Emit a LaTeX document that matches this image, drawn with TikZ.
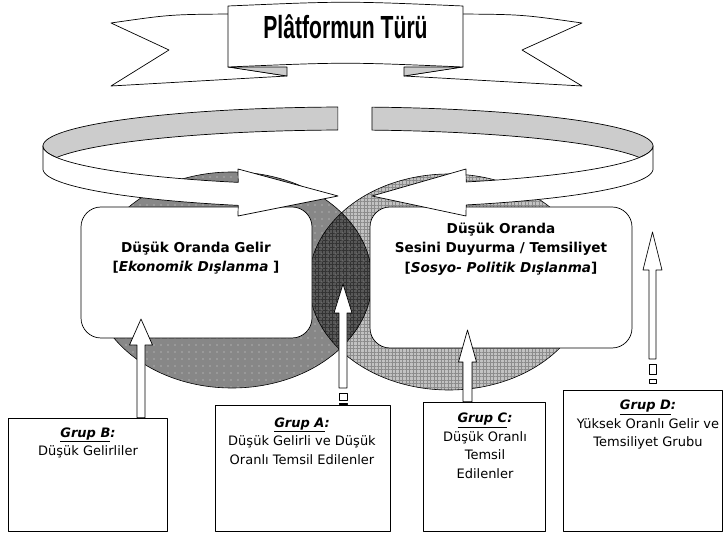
\documentclass[tikz,border=0pt]{standalone}
\usepackage{fontspec}
\usepackage{graphicx}
\setmainfont{DejaVu Sans}
\newfontfamily\bannerfont{Liberation Sans}
\usetikzlibrary{patterns.meta,calc}
\newcommand{\upblk}[6]{%
 \pgfmathsetmacro\blkA{#1+#5}\pgfmathsetmacro\blkB{#1+#6}%
 \pgfmathsetmacro\blkC{#1-#6}\pgfmathsetmacro\blkD{#1-#5}%
 \filldraw[blk] (#1,#2) -- (\blkA,#3) -- (\blkB,#3) -- (\blkB,#4) -- (\blkC,#4) -- (\blkC,#3) -- (\blkD,#3) -- cycle;}
\def\rgcx{348}\def\rgcy{146}\def\rgrx{305}\def\rgry{39}\def\rgh{23}
\begin{document}
\begin{tikzpicture}[x=1pt,y=-1pt,line join=round,
  ol/.style={draw=black,line width=0.7pt},
  rbox/.style={ol,fill=white,rounded corners=20pt,inner sep=0pt},
  gbox/.style={ol,fill=white,inner sep=0pt},
  blk/.style={ol,fill=white},
  ringback/.style={ol,fill=black!20},
  ringfront/.style={ol,fill=white},
  boxtxt/.style={font=\fontsize{13.6}{19.5}\selectfont\bfseries,align=center,inner sep=0pt},
  grptxt/.style={font=\fontsize{13}{18.5}\selectfont,align=center,inner sep=0pt},
]
\useasboundingbox (0,0) rectangle (723,534);
\fill[white] (0,0) rectangle (723,534);

% ---- overlapping circles
\fill[black!47] (232,280) ellipse [x radius=140, y radius=108];
\fill[pattern={Dots[distance=7pt,radius=0.6pt]},pattern color=white!85!black] (232,280) ellipse [x radius=140, y radius=108];
\fill[black!24] (449,282) ellipse [x radius=140, y radius=108];
\fill[pattern={Hatch[distance=3.5pt,line width=0.5pt]},pattern color=black!45] (449,282) ellipse [x radius=140, y radius=108];
\begin{scope}
  \clip (232,280) ellipse [x radius=140, y radius=108];
  \fill[black!66] (449,282) ellipse [x radius=140, y radius=108];
  \fill[pattern={Hatch[distance=3.5pt,line width=0.5pt]},pattern color=black!80] (449,282) ellipse [x radius=140, y radius=108];
  \fill[pattern={Dots[distance=7pt,radius=0.6pt]},pattern color=black!35] (449,282) ellipse [x radius=140, y radius=108];
\end{scope}
\draw[line width=0.6pt] (232,280) ellipse [x radius=140, y radius=108];
\draw[line width=0.6pt] (449,282) ellipse [x radius=140, y radius=108];

% ---- rounded boxes
\node[rbox,minimum width=231pt,minimum height=131pt] (lbox) at (196.5,272.5) {};
\node[rbox,minimum width=262pt,minimum height=141pt] (rbox) at (501,277.5) {};
\node[boxtxt] (ltext) at (196,258) {Düşük Oranda Gelir\\{[}\textit{Ekonomik Dışlanma}~{]}};
\node[boxtxt] (rtext) at (501,249) {Düşük Oranda\\Sesini Duyurma / Temsiliyet\\{[}\textit{Sosyo- Politik Dışlanma}{]}};

% ---- circular ribbon arrows
\filldraw[ringback] plot[domain=268.1:162.8,samples=60] ({\rgcx+\rgrx*cos(\x)},{\rgcy+\rgry*sin(\x)})
  -- plot[domain=197.2:268.1,samples=50] ({\rgcx+\rgrx*cos(\x)},{\rgcy+\rgh+\rgry*sin(\x)}) -- cycle;
\filldraw[ringfront] plot[domain=180:111.1,samples=50] ({\rgcx+\rgrx*cos(\x)},{\rgcy+\rgry*sin(\x)})
  -- (238,169) -- (338,196) -- (238,216)
  -- plot[domain=111.1:180,samples=50] ({\rgcx+\rgrx*cos(\x)},{\rgcy+\rgh+\rgry*sin(\x)}) -- cycle;
\filldraw[ringback] plot[domain=274.5:377.2,samples=60] ({\rgcx+\rgrx*cos(\x)},{\rgcy+\rgry*sin(\x)})
  -- plot[domain=342.8:274.5,samples=50] ({\rgcx+\rgrx*cos(\x)},{\rgcy+\rgh+\rgry*sin(\x)}) -- cycle;
\filldraw[ringfront] plot[domain=0:67.2,samples=50] ({\rgcx+\rgrx*cos(\x)},{\rgcy+\rgry*sin(\x)})
  -- (466,169) -- (372,196) -- (466,216)
  -- plot[domain=67.2:0,samples=50] ({\rgcx+\rgrx*cos(\x)},{\rgcy+\rgh+\rgry*sin(\x)}) -- cycle;

% ---- banner
\filldraw[ol,fill=white] (111,23) .. controls (170,14.5) .. (230,14) -- (230,67) -- (287,76) -- (111,86) -- (169,50) -- cycle;
\filldraw[ol,fill=white] (582,23) .. controls (522,14.5) .. (461,14) -- (461,67) -- (404,76) -- (582,86) -- (522,50) -- cycle;
\filldraw[ol,fill=black!20] (228,67) -- (287,67) -- (287,76) -- cycle;
\filldraw[ol,fill=black!20] (463,67) -- (404,67) -- (404,76) -- cycle;
\filldraw[ol,fill=white] (228,6) .. controls (345.5,1) .. (463,6) -- (463,67) .. controls (345.5,62) .. (228,67) -- cycle;
\node[font=\bannerfont\bfseries\fontsize{32}{32}\selectfont,inner sep=0pt,anchor=base] (title) at (345.5,39) {\scalebox{0.66}[1]{Plâtformun Türü}};

% ---- group boxes
\node[gbox,minimum width=159pt,minimum height=113pt] (gB) at (87.5,474.5) {};
\node[gbox,minimum width=175pt,minimum height=126pt] (gA) at (302.5,468) {};
\node[gbox,minimum width=122pt,minimum height=129pt] (gC) at (484,466.5) {};
\node[gbox,minimum width=159pt,minimum height=141pt] (gD) at (642.5,460.5) {};
\node[grptxt] (tB) at (88,443) {\underline{\textbf{\textit{Grup B}}}\textbf{\textit{:}}\\Düşük Gelirliler};
\node[grptxt] (tA) at (302,441) {\underline{\textbf{\textit{Grup A}}}\textbf{\textit{:}}\\Düşük Gelirli ve Düşük\\Oranlı Temsil Edilenler};
\node[grptxt] (tC) at (485,446) {\underline{\textbf{\textit{Grup C}}}\textbf{\textit{:}}\\Düşük Oranlı\\Temsil\\Edilenler};
\node[grptxt] (tD) at (648,425) {\underline{\textbf{\textit{Grup D}}}\textbf{\textit{:}}\\Yüksek Oranlı Gelir ve\\Temsiliyet Grubu};

% ---- block arrows
\upblk{141}{319}{345}{0 |- gB.north}{11.5}{4}
\upblk{467.5}{330}{362}{0 |- gC.north}{9}{4.5}
\upblk{343}{284}{313}{388}{9}{4}
\draw[blk] (339,393) rectangle (347,400);
\draw[blk] (339,403.5) rectangle (347,0 |- gA.north);
\upblk{652.5}{232}{270}{359}{9.5}{3.5}
\draw[blk] (649,364) rectangle (656,374);
\draw[blk] (649,379) rectangle (656,383);
\end{tikzpicture}
\end{document}
